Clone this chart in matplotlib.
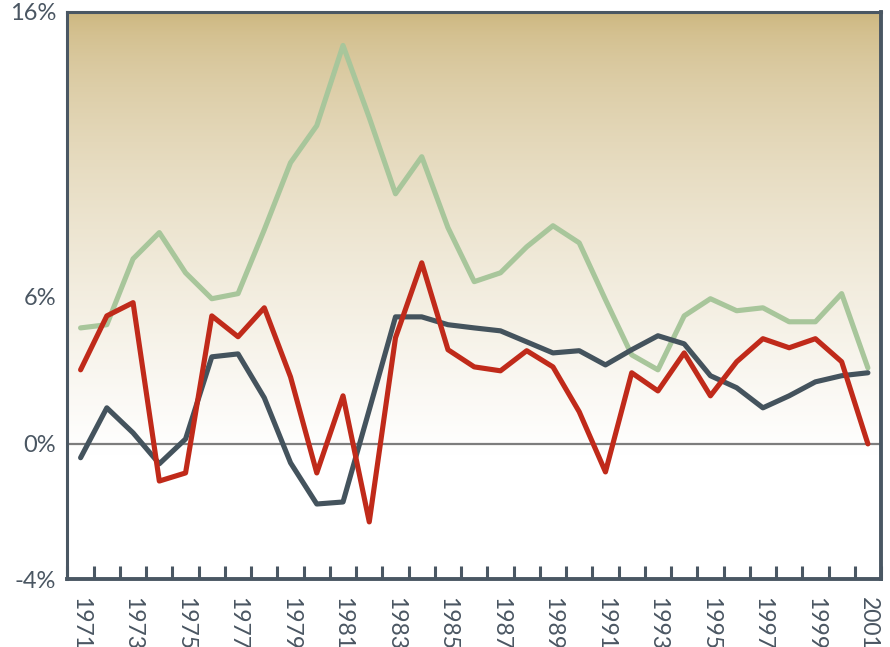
import numpy as np
import matplotlib
matplotlib.use("Agg")
import matplotlib.pyplot as plt
from matplotlib.colors import to_rgb

# years and the three series (percent)
years = list(range(1971, 2002))
green = [4.73, 4.86, 7.33, 8.25, 6.84, 5.92, 6.11, 8.35, 10.70, 12.0,
         14.81, 12.28, 9.61, 10.91, 8.42, 6.53, 6.84, 7.75, 8.49, 7.89,
         5.88, 3.63, 3.02, 5.22, 5.92, 5.43, 5.55, 4.98, 4.98, 6.11, 3.10]
red = [3.02, 5.22, 5.76, -1.10, -0.86, 5.22, 4.37, 5.55, 2.73, -0.86,
       1.96, -2.31, 4.33, 7.19, 3.84, 3.14, 2.98, 3.80, 3.14, 1.31,
       -0.83, 2.90, 2.16, 3.71, 1.96, 3.35, 4.29, 3.92, 4.29, 3.35, 0.0]
dark = [-0.41, 1.47, 0.45, -0.59, 0.20, 3.55, 3.67, 1.88, -0.56, -1.78,
        -1.72, 1.39, 5.18, 5.18, 4.86, 4.73, 4.61, 4.16, 3.71, 3.80,
        3.22, 3.84, 4.41, 4.08, 2.78, 2.29, 1.47, 1.96, 2.53, 2.78, 2.90]

ytick_vals = [-4, 0, 6, 16]
ytick_labels = ['-4%', '0%', '6%', '16%']

# the original axis is not evenly spaced between its labels
y_pos = [0, 135, 282, 567]

def fwd(v):
    return np.interp(v, ytick_vals, y_pos)

def inv(p):
    return np.interp(p, y_pos, ytick_vals)

txt_color = '#4a5662'
spine_color = '#4a5763'

plt.rcParams['font.family'] = ['Lato', 'DejaVu Sans']

fig = plt.figure(figsize=(8.9, 6.47), dpi=100)
ax = fig.add_axes([0.0758, 0.1051, 0.9141, 0.8771])
ax.set_yscale('function', functions=(fwd, inv))
ax.set_xlim(0, len(years))
ax.set_ylim(-4, 16)

# background gradient, tan at top fading to white
top = np.array(to_rgb('#cbb47a'))
white = np.ones(3)
s = np.linspace(0, 1, 400)
t = np.clip(s / 0.78, 0, 1) ** 0.6
grad = top[None, :] + (white - top)[None, :] * t[:, None]
ax.imshow(grad[:, None, :], extent=(0, 1, 0, 1), transform=ax.transAxes,
          aspect='auto', origin='upper', zorder=0)

ax.axhline(0, color='#7d7d7d', lw=1.6, zorder=1)

x = np.arange(len(years)) + 0.5
kw = dict(lw=3.7, solid_joinstyle='round', solid_capstyle='round', zorder=3)
ax.plot(x, green, color='#a8c69b', **kw)
ax.plot(x, dark, color='#44535d', **kw)
ax.plot(x, red, color='#c02a1a', **kw)

# x ticks at category boundaries, labels every other year
ax.set_xticks(np.arange(len(years) + 1))
ax.set_xticklabels([])
ax.tick_params(axis='x', which='major', direction='in', length=9.5,
               width=2.2, color=spine_color)
lab_idx = np.arange(0, len(years), 2)
ax.set_xticks(x[lab_idx], minor=True)
ax.set_xticklabels([str(years[i]) for i in lab_idx], minor=True,
                   rotation=270, fontsize=16.5, color=txt_color)
ax.tick_params(axis='x', which='minor', length=0, pad=13)

ax.set_yticks(ytick_vals)
ax.set_yticklabels(ytick_labels, fontsize=17, color=txt_color)
ax.tick_params(axis='y', which='major', length=0, pad=8)
ax.set_yticks([6], minor=True)
ax.tick_params(axis='y', which='minor', direction='in', length=14.5,
               width=2, color=spine_color)

for side, w in [('left', 2.2), ('bottom', 2.8), ('right', 2.8), ('top', 2.2)]:
    ax.spines[side].set_color(spine_color)
    ax.spines[side].set_linewidth(w)
    ax.spines[side].set_zorder(4)

fig.savefig('out.png', dpi=100)
